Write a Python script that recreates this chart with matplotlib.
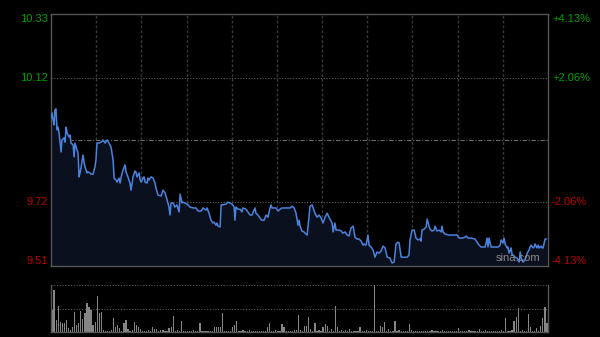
import numpy as np
import matplotlib.pyplot as plt

# intraday price, minute index (0..241) and price
minutes = [0.0, 0.5, 1.0, 1.5, 1.9, 2.4, 2.9, 3.4, 3.9, 4.9, 5.3, 6.3, 6.8, 7.3, 7.8, 8.7, 9.2, 9.7,
           10.7, 11.2, 11.6, 12.6, 13.1, 13.6, 14.1, 14.6, 15.5, 16.0, 16.5, 17.5, 17.9, 18.9, 19.4,
           20.4, 21.3, 21.8, 22.3, 23.3, 24.3, 25.2, 26.2, 27.2, 28.1, 29.1, 30.1, 30.6, 31.5, 32.0,
           33.0, 33.5, 34.0, 34.9, 35.9, 36.4, 37.3, 38.3, 38.8, 39.8, 40.7, 41.2, 41.7, 42.7, 43.2,
           43.7, 44.6, 45.1, 45.6, 46.6, 47.0, 47.5, 48.5, 49.5, 50.4, 50.9, 51.9, 53.4, 54.3, 55.3,
           56.3, 57.2, 57.7, 58.2, 59.2, 60.1, 61.1, 62.1, 62.6, 63.5, 64.0, 65.0, 66.0, 67.4, 68.9,
           70.3, 71.3, 72.8, 73.7, 75.2, 75.7, 76.6, 77.6, 78.6, 79.1, 80.0, 80.5, 81.0, 82.0, 82.5,
           83.4, 84.9, 85.8, 86.8, 87.8, 88.8, 89.2, 89.7, 90.7, 91.7, 92.6, 93.1, 94.6, 95.5, 96.5,
           97.5, 98.5, 98.9, 99.4, 100.4, 101.4, 102.3, 103.3, 104.3, 105.2, 106.2, 106.7, 107.2,
           108.2, 109.1, 110.1, 111.1, 112.0, 113.5, 114.9, 115.9, 116.9, 117.9, 118.8, 119.8, 120.3,
           120.8, 121.7, 122.7, 123.2, 124.2, 125.1, 125.6, 126.6, 127.1, 128.0, 129.0, 130.0, 131.0,
           131.9, 132.9, 133.9, 134.8, 135.8, 136.3, 136.8, 137.7, 138.2, 139.7, 140.7, 141.6, 142.6,
           143.6, 144.5, 145.5, 146.5, 147.0, 147.4, 148.4, 149.4, 150.4, 151.3, 151.8, 152.8, 153.7,
           154.2, 155.2, 156.2, 157.1, 158.1, 159.1, 160.1, 161.0, 162.0, 163.0, 164.4, 165.4, 166.4,
           167.3, 168.3, 168.8, 169.8, 170.2, 171.7, 172.7, 173.6, 174.1, 175.1, 176.1, 177.0, 178.0,
           179.0, 179.4, 179.9, 180.9, 181.9, 182.4, 183.3, 183.8, 184.8, 185.8, 186.2, 187.2, 188.2,
           189.2, 189.6, 190.1, 191.1, 193.0, 194.5, 195.9, 196.9, 197.9, 199.3, 200.8, 201.3, 202.2,
           203.7, 205.6, 206.6, 207.6, 208.6, 209.5, 210.5, 211.5, 211.9, 212.4, 213.4, 214.4, 215.3,
           216.8, 217.8, 218.3, 219.2, 219.7, 220.2, 221.2, 221.6, 222.1, 223.1, 223.6, 224.1, 225.0,
           226.0, 227.0, 227.5, 228.0, 228.9, 229.9, 230.4, 230.9, 231.8, 232.3, 232.8, 233.8, 234.3,
           234.7, 235.7, 236.2, 236.7, 237.7, 238.2, 238.6, 239.6, 240.1]
prices = [9.992, 10.008, 9.985, 9.969, 10.018, 10.021, 9.953, 9.962, 9.943, 9.881, 9.920, 9.927, 9.913,
          9.962, 9.943, 9.930, 9.936, 9.910, 9.904, 9.865, 9.910, 9.887, 9.878, 9.800, 9.813, 9.832,
          9.871, 9.848, 9.832, 9.813, 9.816, 9.813, 9.809, 9.809, 9.832, 9.855, 9.910, 9.910, 9.913,
          9.920, 9.910, 9.920, 9.910, 9.897, 9.855, 9.796, 9.790, 9.783, 9.796, 9.780, 9.800, 9.822,
          9.839, 9.816, 9.800, 9.780, 9.757, 9.800, 9.819, 9.816, 9.800, 9.813, 9.790, 9.783, 9.796,
          9.800, 9.783, 9.780, 9.796, 9.790, 9.800, 9.796, 9.780, 9.764, 9.741, 9.738, 9.757, 9.748,
          9.725, 9.702, 9.676, 9.715, 9.715, 9.702, 9.709, 9.686, 9.744, 9.715, 9.718, 9.715, 9.712,
          9.702, 9.699, 9.699, 9.689, 9.689, 9.699, 9.692, 9.699, 9.682, 9.659, 9.650, 9.653, 9.643,
          9.650, 9.640, 9.637, 9.709, 9.709, 9.712, 9.718, 9.715, 9.712, 9.702, 9.659, 9.702, 9.695,
          9.695, 9.686, 9.699, 9.695, 9.686, 9.676, 9.676, 9.692, 9.699, 9.682, 9.676, 9.666, 9.659,
          9.659, 9.676, 9.669, 9.699, 9.709, 9.699, 9.699, 9.699, 9.689, 9.695, 9.699, 9.699, 9.699,
          9.699, 9.705, 9.699, 9.682, 9.643, 9.659, 9.640, 9.624, 9.621, 9.617, 9.611, 9.669, 9.705,
          9.709, 9.699, 9.682, 9.669, 9.676, 9.666, 9.650, 9.669, 9.682, 9.669, 9.656, 9.650, 9.621,
          9.650, 9.627, 9.627, 9.624, 9.617, 9.621, 9.611, 9.608, 9.634, 9.640, 9.621, 9.604, 9.598,
          9.598, 9.591, 9.578, 9.582, 9.578, 9.611, 9.578, 9.572, 9.562, 9.539, 9.556, 9.552, 9.559,
          9.575, 9.569, 9.539, 9.536, 9.520, 9.523, 9.582, 9.588, 9.585, 9.539, 9.539, 9.539, 9.539,
          9.546, 9.595, 9.627, 9.627, 9.601, 9.595, 9.598, 9.591, 9.627, 9.630, 9.637, 9.663, 9.640,
          9.630, 9.624, 9.627, 9.640, 9.624, 9.627, 9.621, 9.640, 9.621, 9.614, 9.611, 9.611, 9.611,
          9.611, 9.601, 9.601, 9.604, 9.608, 9.601, 9.601, 9.598, 9.588, 9.578, 9.572, 9.572, 9.572,
          9.601, 9.572, 9.601, 9.572, 9.572, 9.572, 9.572, 9.578, 9.595, 9.585, 9.601, 9.582, 9.569,
          9.572, 9.552, 9.569, 9.546, 9.546, 9.539, 9.536, 9.523, 9.556, 9.536, 9.523, 9.530, 9.539,
          9.552, 9.562, 9.572, 9.578, 9.569, 9.572, 9.582, 9.569, 9.578, 9.569, 9.575, 9.569, 9.569,
          9.598, 9.598]

# per-minute volume (relative, 100 = biggest bar)
volume = [47, 89, 25, 55, 21, 19, 19, 25, 8, 5,
          11, 43, 15, 19, 45, 28, 40, 62, 53, 47,
          15, 21, 77, 40, 43, 4, 3, 2, 3, 4,
          30, 11, 15, 8, 3, 19, 25, 6, 3, 4,
          21, 15, 11, 6, 3, 2, 3, 4, 3, 11,
          6, 6, 3, 4, 4, 3, 2, 8, 11, 34,
          3, 4, 2, 23, 3, 2, 3, 2, 3, 4,
          3, 2, 19, 3, 2, 3, 2, 3, 3, 11,
          11, 11, 11, 40, 3, 2, 3, 2, 11, 15,
          23, 3, 2, 4, 3, 2, 4, 3, 2, 3,
          2, 3, 2, 3, 2, 11, 19, 3, 2, 4,
          3, 2, 17, 11, 3, 2, 3, 2, 4, 4,
          36, 4, 3, 13, 13, 32, 6, 3, 19, 3,
          4, 3, 11, 17, 13, 3, 6, 3, 55, 11,
          3, 4, 2, 4, 3, 6, 2, 2, 3, 2,
          11, 3, 2, 4, 3, 2, 3, 100, 3, 2,
          13, 11, 21, 3, 6, 2, 3, 23, 2, 4,
          3, 2, 3, 2, 17, 4, 3, 2, 3, 2,
          3, 2, 3, 2, 3, 4, 2, 3, 2, 3,
          4, 2, 3, 2, 3, 2, 3, 2, 8, 3,
          2, 3, 2, 4, 3, 2, 3, 2, 6, 3,
          2, 4, 3, 2, 3, 2, 3, 3, 2, 4,
          3, 30, 2, 3, 4, 23, 32, 51, 3, 4,
          3, 3, 38, 11, 3, 2, 8, 3, 13, 30,
          53, 20]

prev_close = 9.92
price_ticks = [10.33, 10.12, 9.72, 9.51]
pct_ticks = ['+4.13%', '+2.06%', '-2.06%', '-4.13%']
tick_colors = ['#00a000', '#00a000', '#c00000', '#c00000']

plt.rcParams['font.family'] = ['Liberation Sans', 'DejaVu Sans']

fig = plt.figure(figsize=(6, 3.37), dpi=100, facecolor='black')
ax = fig.add_axes([0.085, 0.2107, 0.8283, 0.7478], facecolor='black')
axv = fig.add_axes([0.085, 0.0148, 0.8283, 0.1395], facecolor='black')

lo, hi = 9.5103, 10.3297
ax.set_xlim(0, 241)
ax.set_ylim(lo, hi)

# grid
for gx in np.linspace(0, 241, 12)[1:-1]:
    ax.axvline(gx, color='#383838', lw=1, ls=(0, (2, 1.5)), zorder=1)
for gy in [10.12, 9.72]:
    ax.axhline(gy, color='#5a5a5a', lw=0.8, ls=(0, (1, 1.5)), zorder=1)
ax.axhline(prev_close, color='#6a6a6a', lw=0.8, ls=(0, (4, 1.5, 1, 1.5)), zorder=1)

ax.fill_between(minutes, prices, lo, color='#0a101d', zorder=2)
ax.plot(minutes, prices, color='#4a82dc', lw=1.1, zorder=3)

for s in ax.spines.values():
    s.set_color('#555555')
    s.set_linewidth(1)
ax.set_xticks([])
ax.set_yticks([])

# axis labels
trans = ax.get_yaxis_transform()
offsets = [-5, 0, 0, 5]
for v, p, c, off in zip(price_ticks, pct_ticks, tick_colors, offsets):
    ax.annotate(f'{v:.2f}', (0, v), xycoords=trans, xytext=(-3, off), textcoords='offset pixels',
                ha='right', va='center', color=c, fontsize=8)
    ax.annotate(p, (1, v), xycoords=trans, xytext=(4, off), textcoords='offset pixels',
                ha='left', va='center', color=c, fontsize=8)

ax.text(0.985, 0.012, 'sina.com', transform=ax.transAxes, ha='right', va='bottom',
        color='#8a8a8a', fontsize=8, zorder=4)

# volume panel
axv.set_xlim(-0.5, 241.5)
axv.set_ylim(0, 100)
axv.bar(np.arange(len(volume)), volume, width=0.6, color='#858585', zorder=2)
axv.axhline(50, color='#555555', lw=0.8, ls=(0, (1, 1.5)), zorder=1)
axv.axhline(100, color='#555555', lw=0.8, ls=(0, (1, 1.5)), zorder=1)
axv.spines['top'].set_visible(False)
for k in ['left', 'right', 'bottom']:
    axv.spines[k].set_color('#555555')
    axv.spines[k].set_linewidth(1)
axv.set_xticks([])
axv.set_yticks([])

fig.savefig('out.png', dpi=100, facecolor='black')
